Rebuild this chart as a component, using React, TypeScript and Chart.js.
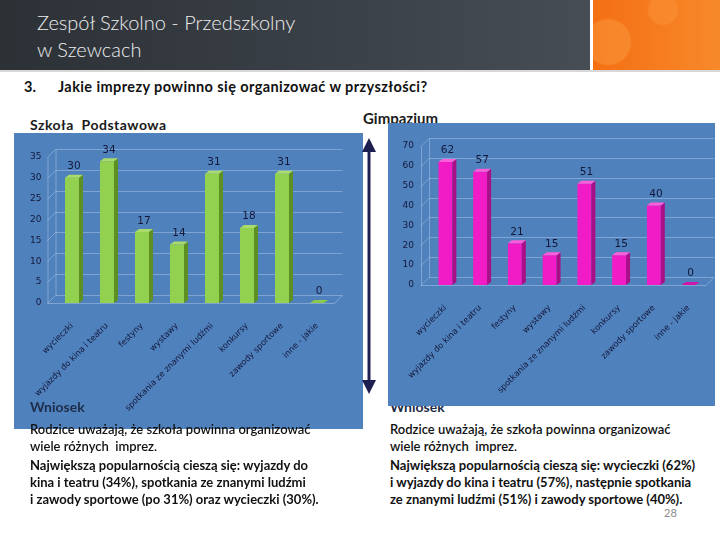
import React, { useEffect, useRef } from "react";
import { Chart, registerables } from "chart.js";

Chart.register(...registerables);

const categories = [
  "wycieczki",
  "wyjazdy do kina i teatru",
  "festyny",
  "wystawy",
  "spotkania ze znanymi ludźmi",
  "konkursy",
  "zawody sportowe",
  "inne - jakie",
];
const primaryValues = [30, 34, 17, 14, 31, 18, 31, 0];
const gymValues = [62, 57, 21, 15, 51, 15, 40, 0];
const primaryTicks = [0, 5, 10, 15, 20, 25, 30, 35];
const gymTicks = [0, 10, 20, 30, 40, 50, 60, 70];

const leftConclusion = [
  "Rodzice uważają, że szkoła powinna organizować",
  "wiele różnych  imprez.",
  "Największą popularnością cieszą się: wyjazdy do",
  "kina i teatru (34%), spotkania ze znanymi ludźmi",
  "i zawody sportowe (po 31%) oraz wycieczki (30%).",
];
const rightConclusion = [
  "Rodzice uważają, że szkoła powinna organizować",
  "wiele różnych  imprez.",
  "Największą popularnością cieszą się: wycieczki (62%)",
  "i wyjazdy do kina i teatru (57%), następnie spotkania",
  "ze znanymi ludźmi (51%) i zawody sportowe (40%).",
];

const bar3d = {
  id: "bar3d",
  beforeDatasetsDraw(chart: any, _a: any, o: any) {
    const { ctx, chartArea: ca, scales } = chart;
    const y = scales.y;
    ctx.save();
    ctx.strokeStyle = o.grid;
    ctx.lineWidth = 1;
    const L = ca.left - o.wallPad;
    const R = ca.right;
    y.ticks.forEach((t: any) => {
      const py = Math.round(y.getPixelForValue(t.value)) + 0.5;
      ctx.beginPath();
      ctx.moveTo(L, py);
      ctx.lineTo(L + o.wx, py - o.wy);
      ctx.lineTo(R + o.wx, py - o.wy);
      ctx.stroke();
    });
    const p0 = Math.round(y.getPixelForValue(y.min)) + 0.5;
    const p1 = Math.round(y.getPixelForValue(y.max)) + 0.5;
    ctx.beginPath();
    ctx.moveTo(L + 0.5, p0);
    ctx.lineTo(L + 0.5, p1);
    ctx.moveTo(L + o.wx + 0.5, p0 - o.wy);
    ctx.lineTo(L + o.wx + 0.5, p1 - o.wy);
    ctx.moveTo(L, p0);
    ctx.lineTo(R, p0);
    ctx.lineTo(R + o.wx, p0 - o.wy);
    ctx.stroke();
    ctx.restore();
  },
  afterDatasetsDraw(chart: any, _a: any, o: any) {
    const { ctx } = chart;
    const meta = chart.getDatasetMeta(0);
    const data = chart.data.datasets[0].data;
    ctx.save();
    meta.data.forEach((el: any, i: number) => {
      const { x, y, base, width } = el.getProps(["x", "y", "base", "width"], true);
      const l = x - width / 2;
      const r = x + width / 2;
      ctx.fillStyle = o.side;
      ctx.beginPath();
      ctx.moveTo(r, y);
      ctx.lineTo(r + o.bx, y - o.by);
      ctx.lineTo(r + o.bx, base - o.by);
      ctx.lineTo(r, base);
      ctx.closePath();
      ctx.fill();
      ctx.fillStyle = data[i] === 0 ? o.flat : o.top;
      ctx.beginPath();
      ctx.moveTo(l, y);
      ctx.lineTo(l + o.bx, y - o.by);
      ctx.lineTo(r + o.bx, y - o.by);
      ctx.lineTo(r, y);
      ctx.closePath();
      ctx.fill();
      ctx.fillStyle = o.label;
      ctx.font = "10.5px 'DejaVu Sans'";
      ctx.textAlign = "center";
      ctx.textBaseline = "bottom";
      ctx.fillText(String(data[i]), x + o.bx / 2, y - o.by - 3);
    });
    ctx.restore();
  },
};

type ChartProps = {
  values: number[];
  tickValues: number[];
  front: string;
  side: string;
  top: string;
  flat: string;
  box: { left: number; top: number; width: number; height: number };
  yWidth: number;
  xHeight: number;
  padTop: number;
  padRight: number;
  yPad: number;
  xPad: number;
};

function Bar3DChart(p: ChartProps) {
  const ref = useRef<HTMLCanvasElement | null>(null);
  useEffect(() => {
    if (!ref.current) return;
    const max = p.tickValues[p.tickValues.length - 1];
    const chart = new Chart(ref.current, {
      type: "bar",
      data: {
        labels: categories,
        datasets: [
          {
            data: p.values,
            backgroundColor: p.front,
            borderWidth: 0,
            barPercentage: 0.4,
            categoryPercentage: 1,
          },
        ],
      },
      options: {
        responsive: false,
        animation: false,
        layout: { padding: { top: p.padTop, right: p.padRight, left: 0, bottom: 0 } },
        plugins: {
          legend: { display: false },
          tooltip: { enabled: false },
          bar3d: {
            grid: "rgba(175,200,230,0.5)",
            wallPad: 7,
            wx: 8,
            wy: 8,
            bx: 4,
            by: 3,
            side: p.side,
            top: p.top,
            flat: p.flat,
            label: "#14183a",
          },
        } as any,
        scales: {
          x: {
            grid: { display: false, drawTicks: false },
            border: { display: false },
            ticks: {
              autoSkip: false,
              minRotation: 45,
              maxRotation: 45,
              padding: p.xPad,
              color: "#14183a",
              font: { family: "DejaVu Sans", size: 8.3 },
            },
            afterFit: (s: any) => {
              s.height = p.xHeight;
            },
          },
          y: {
            min: 0,
            max,
            grid: { display: false, drawTicks: false },
            border: { display: false },
            afterBuildTicks: (s: any) => {
              s.ticks = p.tickValues.map((v) => ({ value: v }));
            },
            ticks: {
              padding: p.yPad,
              color: "#14183a",
              font: { family: "DejaVu Sans", size: 9 },
            },
            afterFit: (s: any) => {
              s.width = p.yWidth;
            },
          },
        },
      },
      plugins: [bar3d as any],
    });
    return () => chart.destroy();
  }, []);
  return (
    <canvas
      ref={ref}
      width={p.box.width}
      height={p.box.height}
      style={{ position: "absolute", left: p.box.left, top: p.box.top, width: p.box.width, height: p.box.height }}
    />
  );
}

const textFont = "Lato, 'Noto Sans', sans-serif";

function Conclusion({ left, lines, z }: { left: number; lines: string[]; z: number }) {
  const tops = [421, 438, 457, 474, 491];
  return (
    <>
      <div
        style={{
          position: "absolute",
          left,
          top: 398,
          fontFamily: textFont,
          fontWeight: 700,
          fontSize: 14,
          color: "#1d2c48",
          zIndex: z,
          whiteSpace: "nowrap",
        }}
      >
        Wniosek
      </div>
      {lines.map((t, i) => (
        <div
          key={i}
          style={{
            position: "absolute",
            left,
            top: tops[i],
            fontFamily: textFont,
            fontWeight: i >= 2 ? 700 : 600,
            fontSize: 13,
            lineHeight: "17px",
            color: "#111",
            whiteSpace: "pre",
            zIndex: 3,
          }}
        >
          {t}
        </div>
      ))}
    </>
  );
}

export default function App() {
  return (
    <div
      style={{
        position: "absolute",
        left: 0,
        top: 0,
        width: 720,
        height: 540,
        overflow: "hidden",
        background: "#ffffff",
      }}
    >
      <div
        style={{
          position: "absolute",
          left: 0,
          top: 0,
          width: 590,
          height: 70,
          background: "linear-gradient(90deg, #2c3136 0%, #3a4047 55%, #474d54 100%)",
        }}
      />
      <div
        style={{
          position: "absolute",
          left: 593,
          top: 0,
          width: 127,
          height: 70,
          background:
            "radial-gradient(circle at 15px 42px, rgba(255,170,80,0.35) 0 22px, transparent 24px), radial-gradient(circle at 70px 10px, rgba(255,160,70,0.3) 0 14px, transparent 16px), linear-gradient(90deg, #f46f14, #f7892a)",
        }}
      />
      <div style={{ position: "absolute", left: 0, top: 70, width: 720, height: 2, background: "#d8d8d8" }} />
      <div
        style={{
          position: "absolute",
          left: 37,
          top: 9,
          fontFamily: textFont,
          fontWeight: 300,
          fontSize: 20,
          lineHeight: "27px",
          color: "#eeeeee",
          whiteSpace: "nowrap",
        }}
      >
        Zespół Szkolno - Przedszkolny
        <br />w Szewcach
      </div>
      <div
        style={{
          position: "absolute",
          left: 24,
          top: 78,
          fontFamily: textFont,
          fontWeight: 700,
          fontSize: 14.5,
          color: "#111",
        }}
      >
        3.
      </div>
      <div
        style={{
          position: "absolute",
          left: 58,
          top: 78,
          fontFamily: textFont,
          fontWeight: 700,
          fontSize: 14.5,
          letterSpacing: 0.4,
          color: "#111",
          whiteSpace: "nowrap",
        }}
      >
        Jakie imprezy powinno się organizować w przyszłości?
      </div>

      <div
        style={{
          position: "absolute",
          left: 30,
          top: 116,
          fontFamily: textFont,
          fontWeight: 700,
          fontSize: 14,
          letterSpacing: 0.5,
          color: "#1a1a1a",
          whiteSpace: "pre",
        }}
      >
        Szkoła  Podstawowa
      </div>
      <div
        style={{
          position: "absolute",
          left: 363,
          top: 109,
          fontFamily: textFont,
          fontWeight: 700,
          fontSize: 15,
          color: "#1a1a1a",
          whiteSpace: "nowrap",
        }}
      >
        Gimpazium
      </div>

      <Conclusion left={390} lines={rightConclusion} z={1} />

      <div style={{ position: "absolute", left: 14, top: 133, width: 349, height: 296, background: "#4f81bd", zIndex: 2 }} />
      <div style={{ position: "absolute", left: 388, top: 123, width: 327, height: 283, background: "#4f81bd", zIndex: 2 }} />

      <div style={{ position: "absolute", left: 0, top: 0, width: 720, height: 540, zIndex: 2 }}>
        <Bar3DChart
          values={primaryValues}
          tickValues={primaryTicks}
          front="#92d050"
          side="#5e8f22"
          top="#a9dc6a"
          flat="#8cc84a"
          box={{ left: 14, top: 133, width: 349, height: 296 }}
          yWidth={40.5}
          xHeight={126}
          padTop={24}
          padRight={28.5}
          yPad={13}
          xPad={18}
        />
        <Bar3DChart
          values={gymValues}
          tickValues={gymTicks}
          front="#f21cc6"
          side="#a90f87"
          top="#ff5edb"
          flat="#d016a8"
          box={{ left: 388, top: 123, width: 327, height: 283 }}
          yWidth={40}
          xHeight={121}
          padTop={23}
          padRight={9}
          yPad={14}
          xPad={18}
        />
        <svg
          width={20}
          height={270}
          style={{ position: "absolute", left: 359, top: 132 }}
          viewBox="0 0 20 270"
        >
          <line x1={10} y1={14} x2={10} y2={250} stroke="#1c1f50" strokeWidth={3} />
          <polygon points="10,6 3,20 17,20" fill="#1c1f50" />
          <polygon points="10,262 3,248 17,248" fill="#1c1f50" />
        </svg>
      </div>

      <Conclusion left={30} lines={leftConclusion} z={4} />

      <div
        style={{
          position: "absolute",
          left: 664,
          top: 506,
          fontFamily: textFont,
          fontSize: 11,
          color: "#8a8a8a",
        }}
      >
        28
      </div>
    </div>
  );
}
